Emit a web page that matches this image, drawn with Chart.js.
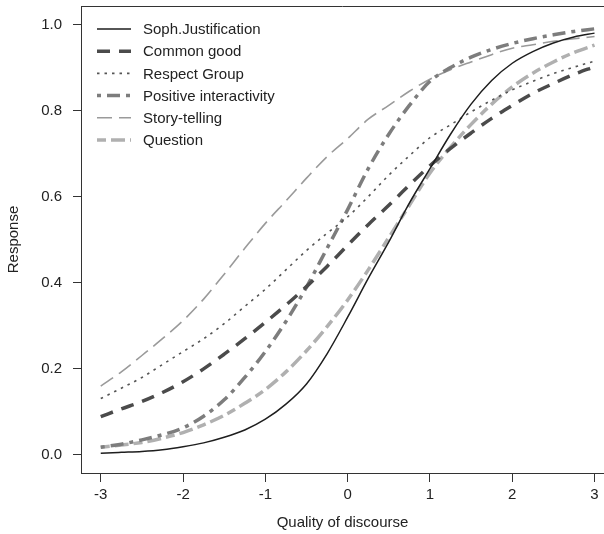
<!DOCTYPE html>
<html>
<head>
<meta charset="utf-8">
<script src="https://cdn.jsdelivr.net/npm/chart.js@4.4.1/dist/chart.umd.min.js"></script>
<style>
  html, body { margin: 0; padding: 0; background: #fff; }
</style>
</head>
<body>
<canvas id="chart" width="604" height="534"></canvas>
<script>
// quality of discourse (x) and predicted response for each indicator
var xs = [-3, -2.75, -2.5, -2.25, -2, -1.75, -1.5, -1.25, -1, -0.75, -0.5, -0.25, 0,
          0.25, 0.5, 0.75, 1, 1.25, 1.5, 1.75, 2, 2.25, 2.5, 2.75, 3];

var sophJustification = [0.004, 0.006, 0.008, 0.012, 0.019, 0.028, 0.041, 0.058, 0.083, 0.118, 0.165, 0.235, 0.32,
                         0.41, 0.495, 0.585, 0.665, 0.745, 0.815, 0.87, 0.91, 0.937, 0.957, 0.971, 0.98];
var commonGood = [0.089, 0.107, 0.124, 0.145, 0.170, 0.200, 0.234, 0.270, 0.308, 0.348, 0.391, 0.438, 0.487,
                  0.535, 0.580, 0.627, 0.672, 0.712, 0.748, 0.782, 0.812, 0.840, 0.863, 0.884, 0.902];
var respectGroup = [0.131, 0.155, 0.18, 0.21, 0.24, 0.27, 0.305, 0.345, 0.385, 0.43, 0.475, 0.515, 0.553,
                    0.6, 0.65, 0.695, 0.737, 0.767, 0.797, 0.824, 0.848, 0.868, 0.886, 0.901, 0.915];
var positiveInteractivity = [0.018, 0.025, 0.035, 0.047, 0.063, 0.09, 0.128, 0.18, 0.24, 0.31, 0.39, 0.48, 0.57,
                             0.665, 0.745, 0.812, 0.868, 0.9, 0.924, 0.942, 0.956, 0.967, 0.976, 0.984, 0.99];
var storyTelling = [0.160, 0.193, 0.231, 0.270, 0.312, 0.362, 0.42, 0.48, 0.538, 0.59, 0.643, 0.693, 0.735,
                    0.78, 0.812, 0.845, 0.873, 0.895, 0.913, 0.93, 0.945, 0.953, 0.961, 0.967, 0.972];
var question = [0.018, 0.023, 0.029, 0.039, 0.052, 0.07, 0.092, 0.12, 0.152, 0.193, 0.242, 0.298, 0.36,
                0.43, 0.505, 0.58, 0.655, 0.715, 0.768, 0.815, 0.855, 0.887, 0.913, 0.935, 0.952];

var seriesNames = ["Soph.Justification", "Common good", "Respect Group",
                   "Positive interactivity", "Story-telling", "Question"];
var xTicks = [-3, -2, -1, 0, 1, 2, 3];
var yTicks = [0, 0.2, 0.4, 0.6, 0.8, 1.0];

var FONT = "'Liberation Sans', Arial, Helvetica, sans-serif";

function pts(ys) {
    return xs.map(function (x, i) { return { x: x, y: ys[i] }; });
}

var styles = [
    { color: '#1e1e1e', width: 1.5, dash: [] },
    { color: '#4b4b4b', width: 3.5, dash: [13, 9] },
    { color: '#555555', width: 1.6, dash: [2.5, 5] },
    { color: '#7d7d7d', width: 3.5, dash: [4, 6, 13, 6] },
    { color: '#9a9a9a', width: 1.6, dash: [15, 7] },
    { color: '#b0b0b0', width: 3.5, dash: [9, 5, 14, 5] }
];
var allSeries = [sophJustification, commonGood, respectGroup, positiveInteractivity, storyTelling, question];

var datasets = [];
for (var i = 0; i < allSeries.length; i++) {
    datasets.push({
        label: seriesNames[i],
        data: pts(allSeries[i]),
        borderColor: styles[i].color,
        borderWidth: styles[i].width,
        borderDash: styles[i].dash,
        borderCapStyle: 'butt',
        pointRadius: 0,
        fill: false,
        cubicInterpolationMode: 'monotone'
    });
}

// legend drawn inside the plot, top left, no frame (like the R original)
var insideLegend = {
    id: 'insideLegend',
    afterDraw: function (chart) {
        var ctx = chart.ctx;
        var x0 = 97, x1 = 131, tx = 143, y = 29, step = 22.2;
        ctx.save();
        ctx.font = '15px ' + FONT;
        ctx.textBaseline = 'middle';
        ctx.fillStyle = '#222';
        chart.data.datasets.forEach(function (ds, i) {
            var yy = y + i * step;
            ctx.beginPath();
            ctx.strokeStyle = ds.borderColor;
            ctx.lineWidth = ds.borderWidth;
            ctx.setLineDash(ds.borderDash);
            ctx.moveTo(x0, yy);
            ctx.lineTo(x1, yy);
            ctx.stroke();
            ctx.setLineDash([]);
            ctx.fillText(ds.label, tx, yy + 1);
        });
        ctx.restore();
    }
};

// top edge of the plot box
var boxTop = {
    id: 'boxTop',
    afterDraw: function (chart) {
        var a = chart.chartArea, ctx = chart.ctx;
        ctx.save();
        ctx.strokeStyle = '#333';
        ctx.lineWidth = 1;
        ctx.beginPath();
        ctx.moveTo(a.left, a.top + 0.5);
        ctx.lineTo(a.right, a.top + 0.5);
        ctx.stroke();
        ctx.restore();
    }
};

var chart = new Chart(document.getElementById('chart'), {
    type: 'line',
    data: { datasets: datasets },
    plugins: [insideLegend, boxTop],
    options: {
        responsive: false,
        animation: false,
        events: [],
        layout: { padding: { top: 6, right: 0, left: 0, bottom: 0 } },
        plugins: {
            legend: { display: false },
            tooltip: { enabled: false }
        },
        scales: {
            x: {
                type: 'linear',
                min: -3.24,
                max: 3.115,
                afterBuildTicks: function (scale) {
                    scale.ticks = xTicks.map(function (v) { return { value: v }; });
                },
                afterFit: function (scale) {
                    scale.height = 61;
                    scale.paddingLeft = 0;
                    scale.paddingRight = 0;
                },
                grid: { drawOnChartArea: false, drawTicks: true, tickLength: 9, color: '#333' },
                border: { display: true, color: '#333', width: 1 },
                ticks: {
                    padding: 4,
                    color: '#222',
                    font: { family: FONT, size: 15 },
                    callback: function (v) { return String(v); }
                },
                title: {
                    display: true,
                    text: 'Quality of discourse',
                    color: '#222',
                    font: { family: FONT, size: 15 },
                    padding: { top: 0, bottom: 2 }
                }
            },
            y: {
                min: -0.042,
                max: 1.043,
                afterBuildTicks: function (scale) {
                    scale.ticks = yTicks.map(function (v) { return { value: v }; });
                },
                afterFit: function (scale) {
                    scale.width = 81;
                    scale.paddingTop = 0;
                    scale.paddingBottom = 0;
                },
                grid: { drawOnChartArea: false, drawTicks: true, tickLength: 8, color: '#333' },
                border: { display: true, color: '#333', width: 1 },
                ticks: {
                    padding: 11,
                    color: '#222',
                    font: { family: FONT, size: 15 },
                    callback: function (v) { return v.toFixed(1); }
                },
                title: {
                    display: true,
                    text: 'Response',
                    color: '#222',
                    font: { family: FONT, size: 15 },
                    padding: { top: 5, bottom: 0 }
                }
            }
        }
    }
});
</script>
</body>
</html>
